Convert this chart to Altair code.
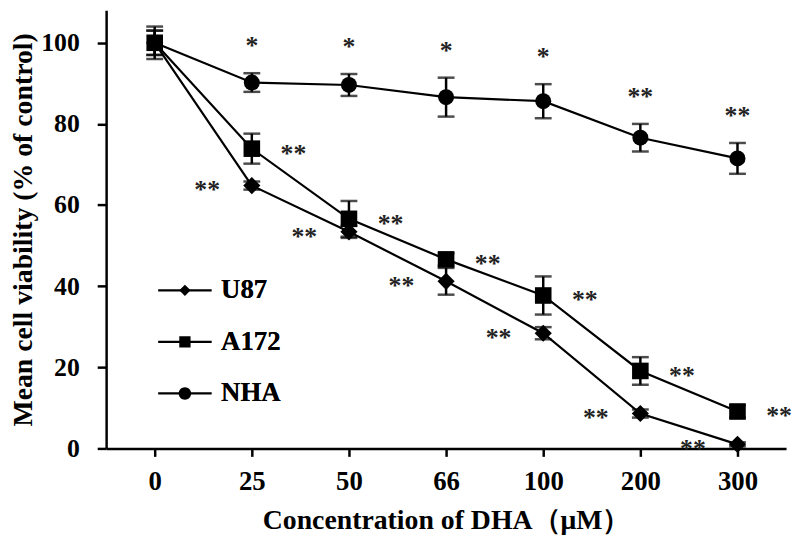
import altair as alt
import pandas as pd

# ---- data ----
conc = ["0", "25", "50", "66", "100", "200", "300"]
series_names = ["U87", "A172", "NHA"]

u87_mean = [100, 64.8, 53.4, 41.2, 28.4, 8.6, 1.0]
u87_err = [3.0, 1.0, 1.5, 3.3, 1.5, 1.0, 0.5]
u87_sig = ["", "**", "**", "**", "**", "**", "**"]

a172_mean = [100, 73.9, 56.6, 46.6, 37.7, 19.1, 9.1]
a172_err = [3.0, 3.7, 4.4, 1.5, 4.7, 3.4, 1.5]
a172_sig = ["", "**", "**", "**", "**", "**", "**"]

nha_mean = [100, 90.2, 89.6, 86.6, 85.6, 76.6, 71.5]
nha_err = [4.0, 2.3, 2.7, 4.8, 4.2, 3.4, 3.8]
nha_sig = ["", "*", "*", "*", "*", "**", "**"]

rows = []
for name, ms, es, ss in zip(series_names,
                            [u87_mean, a172_mean, nha_mean],
                            [u87_err, a172_err, nha_err],
                            [u87_sig, a172_sig, nha_sig]):
    for c, m, e, s in zip(conc, ms, es, ss):
        rows.append(dict(series=name, conc=c, mean=m, err=e,
                         lo=m - e, hi=m + e, sig=s))
df = pd.DataFrame(rows)

FONT = "Liberation Serif"
XT = "Concentration of DHA\uff08\u03bcM\uff09"
YT = "Mean cell viability (% of control)"

axis_style = dict(grid=False, domainColor="black", domainWidth=2.5,
                  tickColor="black", tickWidth=2.5,
                  labelFont=FONT, labelFontWeight="bold", labelColor="black",
                  titleFont=FONT, titleFontWeight="bold", titleColor="black")

xscale = alt.Scale(type="point", padding=0.5)
yscale = alt.Scale(domain=[0, 108], nice=False, zero=True)
xaxis = alt.Axis(labelAngle=0, tickSize=8, labelPadding=12, titlePadding=13,
                 labelFontSize=27, titleFontSize=28, **axis_style)
yaxis = alt.Axis(values=[0, 20, 40, 60, 80, 100], tickSize=9, labelPadding=18,
                 titlePadding=3, labelFontSize=26, titleFontSize=28,
                 **axis_style)


def X():
    return alt.X("conc:O", sort=conc, scale=xscale, axis=xaxis, title=XT)


def Y(field):
    return alt.Y(f"{field}:Q", scale=yscale, axis=yaxis, title=YT)


legend_common = dict(orient="none", legendX=63, legendY=266, title=None,
                     symbolSize=900, symbolOpacity=1,
                     symbolStrokeColor="black", symbolStrokeWidth=2.2,
                     labelFont=FONT, labelFontWeight="bold",
                     labelFontSize=27, labelColor="black",
                     labelOffset=20, rowPadding=22, padding=0)

base = alt.Chart(df)

lines = base.mark_line(color="black", strokeWidth=2.2).encode(
    x=X(), y=Y("mean"),
    stroke=alt.Stroke("series:N",
                      scale=alt.Scale(domain=series_names,
                                      range=["black", "black", "black"]),
                      legend=alt.Legend(symbolType="M-1.8,0H1.8",
                                        **legend_common)))

bars = base.mark_rule(color="black", strokeWidth=2.5).encode(
    x=X(), y=Y("lo"), y2="hi:Q", detail="series:N")

cap_hi = base.mark_tick(color="black", size=17, thickness=2.5).encode(
    x=X(), y=Y("hi"))
cap_lo = base.mark_tick(color="black", size=17, thickness=2.5).encode(
    x=X(), y=Y("lo"))

points = base.mark_point(filled=True, color="black", opacity=1).encode(
    x=X(), y=Y("mean"),
    shape=alt.Shape("series:N", scale=alt.Scale(domain=series_names,
                                                range=["diamond", "square", "circle"]),
                    legend=None),
    size=alt.Size("series:N", scale=alt.Scale(domain=series_names,
                                              range=[300, 260, 330]),
                  legend=None),
)

# legend markers (line segment drawn by the stroke legend)
leg_paths = [
    "M-1.8,0H1.8M0,-0.38L0.38,0L0,0.38L-0.38,0Z",
    "M-1.8,0H1.8M-0.38,-0.38H0.38V0.38H-0.38Z",
    "M-1.8,0H1.8M0.42,0A0.42,0.42,0,1,1,-0.42,0A0.42,0.42,0,1,1,0.42,0Z",
]
legend_layer = base.transform_filter("datum.mean < -1000").mark_point(
    filled=True, fill="black", opacity=1, size=900).encode(
    x=X(), y=Y("mean"),
    shape=alt.Shape("series:N",
                    scale=alt.Scale(domain=series_names, range=leg_paths),
                    legend=alt.Legend(symbolFillColor="black",
                                      **legend_common)),
)

star_style = dict(font=FONT, fontSize=26, fontWeight="bold", color="#222",
                  align="center", baseline="middle")
stars_nha = base.transform_filter("datum.series == 'NHA'").mark_text(
    dy=-27, **star_style).encode(x=X(), y=Y("hi"), text="sig:N")
stars_a172 = base.transform_filter("datum.series == 'A172'").mark_text(
    dx=42, dy=5, **star_style).encode(x=X(), y=Y("mean"), text="sig:N")
stars_u87 = base.transform_filter("datum.series == 'U87'").mark_text(
    dx=-45, dy=5, **star_style).encode(x=X(), y=Y("mean"), text="sig:N")

chart = alt.layer(
    lines, bars, cap_hi, cap_lo, points, legend_layer,
    stars_nha, stars_a172, stars_u87,
).resolve_scale(shape="independent", size="independent").properties(
    width=686, height=442,
    background="white",
    autosize=alt.AutoSizeParams(type="none"),
    padding={"left": 99, "top": 0, "right": 6, "bottom": 85},
).configure_view(stroke=None)

chart.save("out.html", embed_options={"renderer": "svg", "actions": False})
